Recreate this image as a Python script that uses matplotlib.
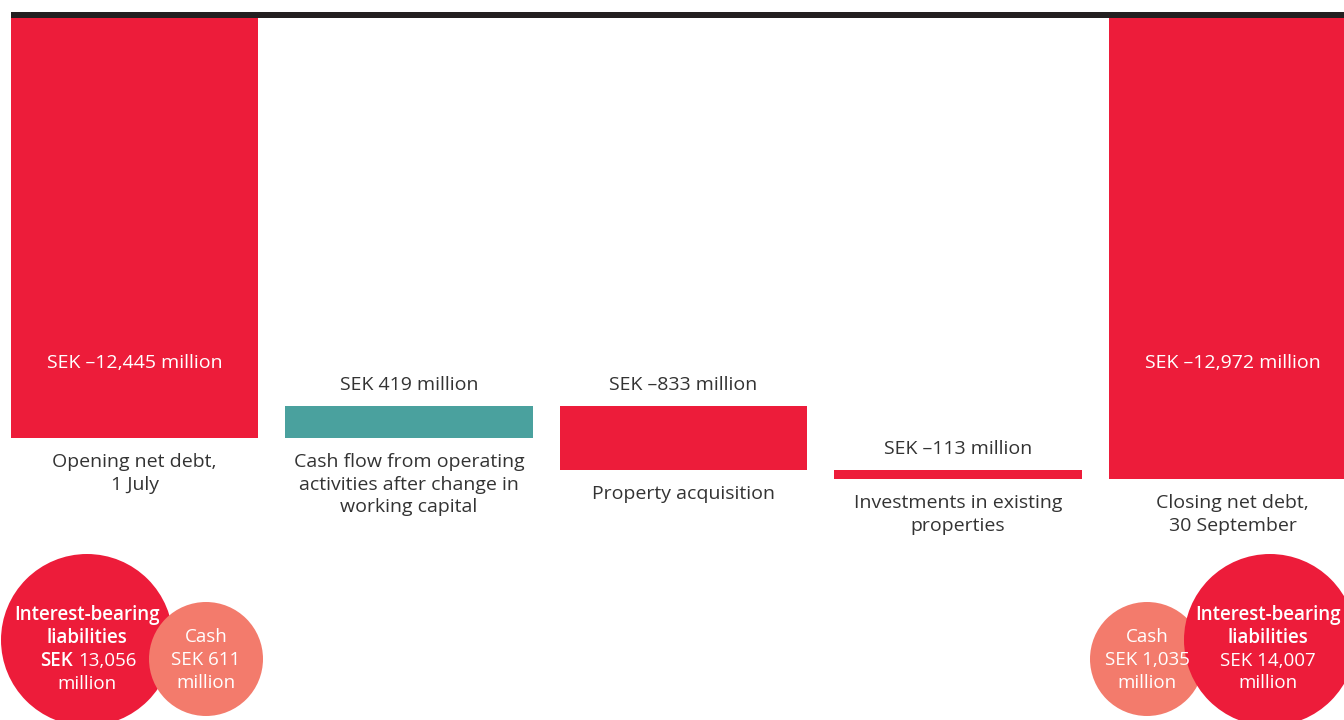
import matplotlib
matplotlib.use('Agg')
import matplotlib.pyplot as plt
from matplotlib.patches import Rectangle, Circle
from matplotlib.transforms import blended_transform_factory

plt.rcParams['font.family'] = ['Open Sans', 'DejaVu Sans']

# net debt bridge, SEK million
categories = ['Opening net debt,\n1 July',
              'Cash flow from operating\nactivities after change in\nworking capital',
              'Property acquisition',
              'Investments in existing\nproperties',
              'Closing net debt,\n30 September']
opening = -12445
changes = [419, -833, -113]
closing = -12972

# breakdown of net debt
liab_open = 13056
cash_open = 611
liab_close = 14007
cash_close = 1035

RED = '#ED1C3A'
TEAL = '#4AA19E'
SALMON = '#F37B6C'
DARK = '#333333'
W, H = 1344, 720

fig = plt.figure(figsize=(W / 100, H / 100), dpi=100)
ax = fig.add_axes([0, 0, 1, 1 - 18 / H])

bottoms = [0]
heights = [opening]
colors = [RED]
level = opening
for c in changes:
    bottoms.append(level)
    heights.append(c)
    colors.append(TEAL if c > 0 else RED)
    level += c
bottoms.append(0)
heights.append(closing)
colors.append(RED)

xs = list(range(len(categories)))
ax.bar(xs, heights, bottom=bottoms, width=0.9, color=colors)

ax.set_xlim(-0.49, -0.49 + W / 274.5)
ax.set_ylim(-16084, -7026)
ax.axis('off')

fs = 14

def fmt(v):
    return 'SEK ' + f'{v:,}'.replace('-', '\u2013') + ' million'

mixed = blended_transform_factory(ax.transData, ax.transAxes)
for i, (b, h) in enumerate(zip(bottoms, heights)):
    end = b + h
    low = min(b, end)
    top = max(b, end)
    if b == 0:
        ax.text(i, 1 - (363 - 18) / (H - 18), fmt(h), transform=mixed,
                ha='center', va='center', color='white', fontsize=fs)
    else:
        ax.annotate(fmt(h), (i, top), xytext=(0, 15), textcoords='offset points',
                    ha='center', va='center', color=DARK, fontsize=fs)
    ax.annotate(categories[i], (i, low), xytext=(0, -11), textcoords='offset points',
                ha='center', va='top', color=DARK, fontsize=fs, linespacing=1.33)

# black rule on top
fig.add_artist(Rectangle((11 / W, 1 - 18 / H), 1, 6 / H, transform=fig.transFigure,
                         color='#231F20', lw=0))

# bubbles in pixel coordinates
ov = fig.add_axes([0, 0, 1, 1])
ov.set_xlim(0, W)
ov.set_ylim(H, 0)
ov.axis('off')

ov.add_patch(Circle((87, 640), 86, color=RED, lw=0))
ov.add_patch(Circle((206, 659), 57, color=SALMON, lw=0))
ov.add_patch(Circle((1147, 659), 57, color=SALMON, lw=0))
ov.add_patch(Circle((1270, 640), 86, color=RED, lw=0))

cf = 13.5
bw = 'semibold'
ov.text(87, 615, 'Interest-bearing', ha='center', va='center', color='white',
        fontsize=cf, fontweight=bw)
ov.text(87, 638, 'liabilities', ha='center', va='center', color='white',
        fontsize=cf, fontweight=bw)
ov.text(73, 661, 'SEK', ha='right', va='center', color='white', fontsize=cf,
        fontweight=bw)
ov.text(78, 661, f'{liab_open:,}', ha='left', va='center', color='white', fontsize=cf)
ov.text(87, 684, 'million', ha='center', va='center', color='white', fontsize=cf)

ov.text(206, 660, f'Cash\nSEK {cash_open:,}\nmillion', ha='center', va='center',
        color='white', fontsize=cf, linespacing=1.33)
ov.text(1147, 660, f'Cash\nSEK {cash_close:,}\nmillion', ha='center', va='center',
        color='white', fontsize=cf, linespacing=1.33)

ov.text(1268, 615, 'Interest-bearing', ha='center', va='center', color='white',
        fontsize=cf, fontweight=bw)
ov.text(1268, 638, 'liabilities', ha='center', va='center', color='white',
        fontsize=cf, fontweight=bw)
ov.text(1268, 672, f'SEK {liab_close:,}\nmillion', ha='center', va='center',
        color='white', fontsize=cf, linespacing=1.33)

fig.savefig('out.png', dpi=100)
